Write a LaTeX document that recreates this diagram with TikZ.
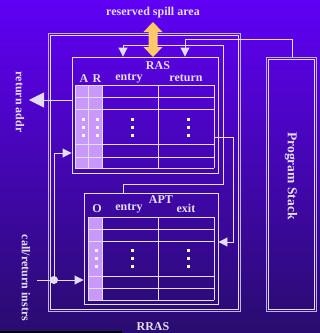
\documentclass[tikz,border=0pt]{standalone}
\usepackage{fontspec}
\setmainfont{Liberation Serif}
\usetikzlibrary{arrows.meta,fit,calc}
\definecolor{bgtop}{RGB}{96,0,245}
\definecolor{bgmid}{RGB}{82,2,220}
\definecolor{bgbot}{RGB}{40,12,110}
\definecolor{linec}{RGB}{228,222,245}
\definecolor{linedim}{RGB}{190,178,232}
\definecolor{textc}{RGB}{228,222,242}
\definecolor{lav}{RGB}{200,152,250}
\definecolor{orng}{RGB}{255,200,105}
\begin{document}
\begin{tikzpicture}[x=1pt,y=-1pt,
  ln/.style={draw=linec,line width=0.9pt},
  conn/.style={ln,-{Triangle[length=9pt,width=9pt]}},
  lbl/.style={text=textc,inner sep=0,font=\bfseries\fontsize{12}{14}\selectfont},
  bigl/.style={text=textc,inner sep=0,font=\bfseries\fontsize{13.5}{15}\selectfont},
  boxn/.style={ln,inner sep=0},
  dimbox/.style={draw=linedim,line width=0.9pt,inner sep=0},
]
\useasboundingbox (0,0) rectangle (320,333);
\shade[top color=bgtop, middle color=bgmid, bottom color=bgbot] (0,0) rectangle (320,333);
\fill[black] (0,331) rectangle (122,333);

% outer frames
\node[dimbox, fit={(48.5,33) (240,311)}] (rras) {};
\draw[ln] (50.5,35) rectangle (238,309);
\node[dimbox, fit={(266,57) (316,311)}] (ps) {};
\draw[ln] (268,59) rectangle (314,309);

% RAS box
\node[boxn, fit={(72,57) (218,173)}] (ras) {};
\fill[lav] (75,85) rectangle (102,168);
\foreach \yy in {85,97,109,144,157,168} \draw[ln] (75,\yy) -- (214,\yy);
\foreach \xx in {75,88,102,158,214} \draw[ln] (\xx,85) -- (\xx,168);
\foreach \xx in {83,97,132,188} \foreach \yy in {119,127,135}
  \fill[white] (\xx-1.5,\yy-1.5) rectangle ++(3,3);

% APT box
\node[boxn, fit={(84,193) (218,304)}] (apt) {};
\fill[lav] (88,217) rectangle (102,300);
\foreach \yy in {217,229,241,276,288,300} \draw[ln] (88,\yy) -- (214,\yy);
\foreach \xx in {88,102,158,214} \draw[ln] (\xx,217) -- (\xx,300);
\foreach \xx in {96,132,188} \foreach \yy in {250,258,266}
  \fill[white] (\xx-1.5,\yy-1.5) rectangle ++(3,3);

% labels
\node[lbl] (tspill) at (153,13) {reserved spill area};
\node[lbl] (tras) at (158,66) {RAS};
\node[lbl] (ta) at (84,79) {A};
\node[lbl] (tr) at (97,79) {R};
\node[lbl] (tent1) at (129,78) {entry};
\node[lbl] (tret) at (186,78) {return};
\node[lbl] (tapt) at (161,200) {APT};
\node[lbl] (to) at (97,209) {O};
\node[lbl] (tent2) at (129,208) {entry};
\node[lbl] (texit) at (186,208) {exit};
\node[lbl] (trras) at (153,327) {RRAS};
\node[lbl, rotate=-90] (tra) at (20,102) {return addr};
\node[lbl, rotate=-90] (tcall) at (26,278) {call/return instrs};
\node[bigl, rotate=-90] (tps) at (291,176) {Program Stack};

% connectors
\coordinate (k1) at (292,39);
\coordinate (k2) at (185,39);
\draw[conn] (k1 |- ps.north) -- (k1) -- (k2) -- (k2 |- ras.north);

\coordinate (m1) at (123,184);
\coordinate (m2) at (223,184);
\coordinate (m3) at (223,45);
\coordinate (m4) at (123,45);
\draw[conn] (m1 |- apt.north) -- (m1) -- (m2) -- (m3) -- (m4) -- (m4 |- ras.north);

\coordinate (n1) at (214,137);
\coordinate (n2) at (233,137);
\coordinate (n3) at (233,242);
\draw[conn] (n1) -- (n2) -- (n3) -- (n3 -| apt.east);

\coordinate (ra) at (29,100);
\draw[ln,-{Triangle[length=15pt,width=15pt]}] (ra -| ras.west) -- (ra);

\coordinate (c0) at (37,280);
\coordinate (b1) at (54,153);
\node[circle, fill=linec, minimum size=8pt, inner sep=0] (jn) at (54,280) {};
\draw[ln] (c0) -- (jn.center);
\draw[conn] (jn.center) -- (jn -| apt.west);
\draw[conn] (jn.center) -- (b1) -- (b1 -| ras.west);

% orange double arrow
\fill[orng] (153,22) -- (162.5,32) -- (157.5,32) -- (157.5,47) -- (162.5,47) -- (153,57)
  -- (143.5,47) -- (148.5,47) -- (148.5,32) -- (143.5,32) -- cycle;
\end{tikzpicture}
\end{document}
